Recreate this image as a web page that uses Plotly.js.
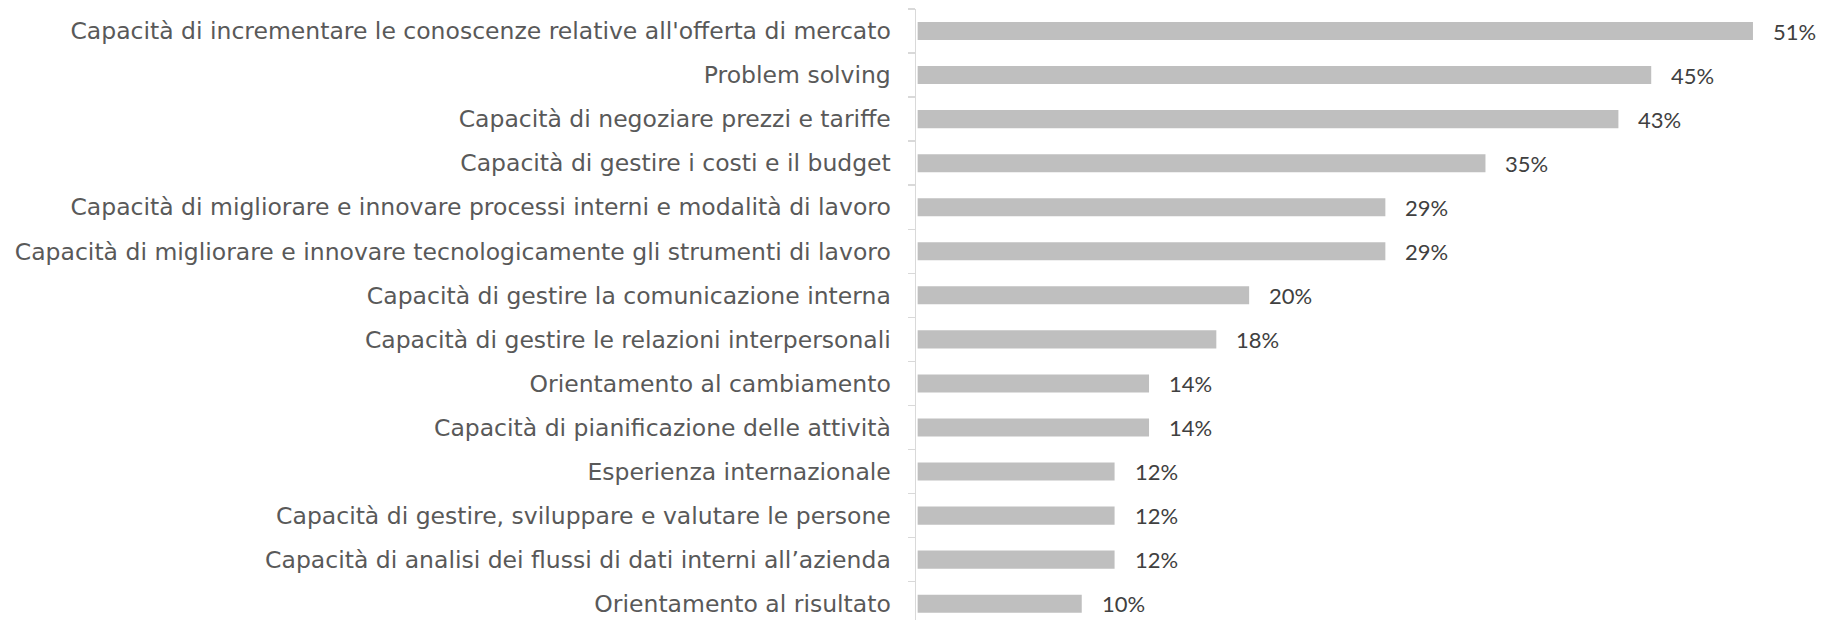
<!DOCTYPE html>
<html>
<head>
<meta charset="utf-8">
<script src="https://cdn.plot.ly/plotly-3.0.1.min.js"></script>
<style>html,body{margin:0;padding:0;background:#fff;}#chart{width:1837px;height:620px;}</style>
</head>
<body>
<div id="chart"></div>
<script>
const categories = [
  "Capacità di incrementare le conoscenze relative all'offerta di mercato",
  "Problem solving",
  "Capacità di negoziare prezzi e tariffe",
  "Capacità di gestire i costi e il budget",
  "Capacità di migliorare e innovare processi interni e modalità di lavoro",
  "Capacità di migliorare e innovare tecnologicamente gli strumenti di lavoro",
  "Capacità di gestire la comunicazione interna",
  "Capacità di gestire le relazioni interpersonali",
  "Orientamento al cambiamento",
  "Capacità di pianificazione delle attività",
  "Esperienza internazionale",
  "Capacità di gestire, sviluppare e valutare le persone",
  "Capacità di analisi dei flussi di dati interni all’azienda",
  "Orientamento al risultato"
];
const values = [50.9, 44.7, 42.7, 34.6, 28.5, 28.5, 20.2, 18.2, 14.1, 14.1, 12.0, 12.0, 12.0, 10.0];
const valueLabels = ["51%", "45%", "43%", "35%", "29%", "29%", "20%", "18%", "14%", "14%", "12%", "12%", "12%", "10%"];

const LABEL_FONT = "'DejaVu Sans', sans-serif";
const VALUE_FONT = "Lato, 'Open Sans', sans-serif";

const trace = {
  type: 'bar',
  orientation: 'h',
  x: values,
  y: categories,
  marker: {color: '#bfbfbf'},
  hoverinfo: 'none'
};

const annotations = categories.map((c, i) => ({
  x: values[i], y: c, xref: 'x', yref: 'y',
  text: valueLabels[i], showarrow: false,
  xanchor: 'left', yanchor: 'middle', xshift: 18,
  font: {family: VALUE_FONT, size: 22, color: '#404040'}
}));

const layout = {
  width: 1837, height: 620,
  margin: {l: 916, r: 0, t: 8.5, b: 0, pad: 0},
  paper_bgcolor: '#ffffff', plot_bgcolor: '#ffffff',
  showlegend: false,
  bargap: 0.59,
  xaxis: {
    range: [-0.1, 56.02], showgrid: false, zeroline: false,
    showticklabels: false, ticks: '', showline: false
  },
  yaxis: {
    type: 'category',
    range: [13.37, -0.5],
    showgrid: false, zeroline: false,
    showline: true, linecolor: '#d9d9d9', linewidth: 1.5,
    ticks: 'outside', tickson: 'boundaries', ticklen: 7, tickcolor: '#d9d9d9', tickwidth: 1.5,
    ticklabelstandoff: 19,
    tickfont: {family: LABEL_FONT, size: 23.5, color: '#595959'}
  },
  annotations: annotations
};

Plotly.newPlot('chart', [trace], layout, {displayModeBar: false, staticPlot: true});
</script>
</body>
</html>
